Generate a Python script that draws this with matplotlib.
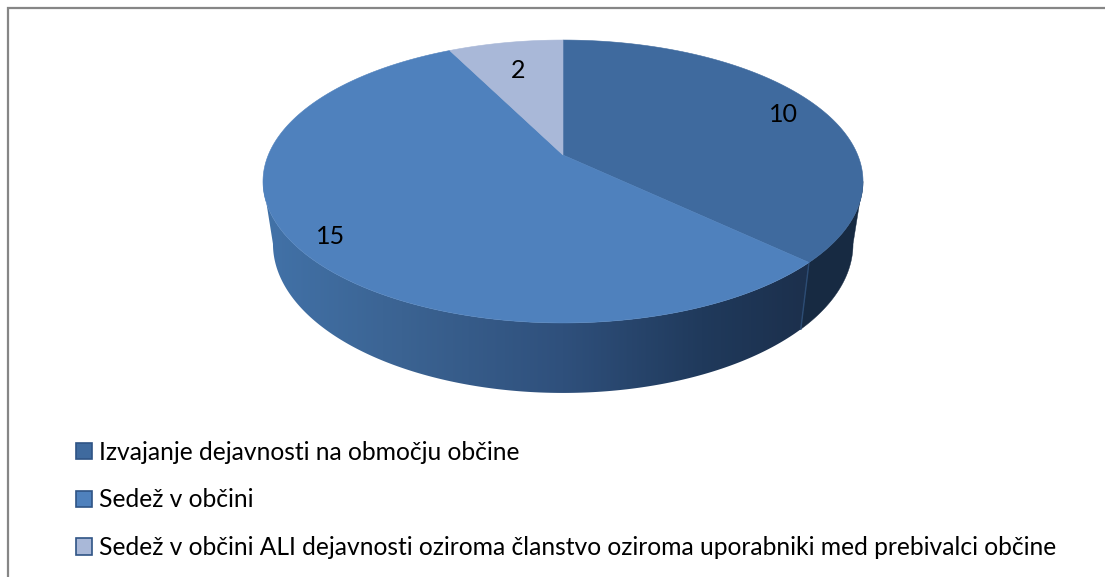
import numpy as np
import matplotlib
matplotlib.use("Agg")
import matplotlib.pyplot as plt
from matplotlib.patches import Polygon, Patch
from matplotlib.colors import LinearSegmentedColormap

labels = ["Izvajanje dejavnosti na območju občine",
          "Sedež v občini",
          "Sedež v občini ALI dejavnosti oziroma članstvo oziroma uporabniki med prebivalci občine"]
values = [10, 15, 2]
colors = ["#3f6a9e", "#4f81bd", "#a9b8d8"]

plt.rcParams["font.family"] = ["Lato", "DejaVu Sans"]

persp = 0.1873


# perspective: angle (clockwise from the top) to pixel
def top_rim(t):
    d = 1 + persp * np.cos(t)
    return 563 + 294.7 * np.sin(t) / d, 155 - 136.5 * np.cos(t) / d


def bottom_rim(t):
    d = 1 + persp * np.cos(t)
    return 563 + 284.9 * np.sin(t) / d, 216 - 143.8 * np.cos(t) / d


fig = plt.figure(figsize=(11.05, 5.77), dpi=100)
ax = fig.add_axes([0, 0, 1, 1])

# frame
ax.plot([8, 8, 1105], [577, 8, 8], color="#868686", lw=1.6, solid_joinstyle="miter")

edges = np.cumsum([0] + values) / sum(values) * 2 * np.pi

# the wall is visible between the two silhouette angles
t_right = np.arccos(-persp)
t_left = 2 * np.pi - t_right


def wall(t0, t1):
    t = np.linspace(t0, t1, 200)
    xt, yt = top_rim(t)
    xb, yb = bottom_rim(t)
    return np.column_stack([np.r_[xt, xb[::-1]], np.r_[yt, yb[::-1]]])


# front wall: horizontal gradient clipped to the wall outline
shade = LinearSegmentedColormap.from_list("shade", [(0, "#4272a8"), (0.23, "#3b6392"), (0.5, "#2f507c"),
                                                    (0.73, "#203a5c"), (0.9, "#1c304d"), (1, "#1c304d")])
grad = ax.imshow(np.linspace(0, 1, 600)[None, :], cmap=shade, extent=(263, 864, 400, 150), aspect="auto", zorder=1)
ax.set_xlim(0, 1105)
ax.set_ylim(577, 0)
ax.axis("off")
front = Polygon(wall(edges[1], t_left), closed=True, fc="none", ec="none")
ax.add_patch(front)
grad.set_clip_path(front)

side = Polygon(wall(t_right, edges[1]), closed=True, fc="#172a42", ec="#172a42", lw=0.3, zorder=1)
ax.add_patch(side)

# edge between the slices on the wall
ax.plot([top_rim(edges[1])[0], bottom_rim(edges[1])[0]],
        [top_rim(edges[1])[1], bottom_rim(edges[1])[1]], color="#2c4c74", lw=1, zorder=2)

# top face
for i in range(len(values)):
    t = np.linspace(edges[i], edges[i + 1], 200)
    x, y = top_rim(t)
    ax.add_patch(Polygon(np.column_stack([np.r_[563, x], np.r_[155, y]]), closed=True,
                         fc=colors[i], ec=colors[i], lw=0.4, zorder=3))

ax.text(783, 115, str(values[0]), fontsize=18, ha="center", va="center", color="black", zorder=4)
ax.text(331, 236, str(values[1]), fontsize=18, ha="center", va="center", color="black", zorder=4)
ax.text(518, 70, str(values[2]), fontsize=18, ha="center", va="center", color="black", zorder=4)

handles = [Patch(fc=c, ec="#2f5485", lw=1.2, label=l) for c, l in zip(colors, labels)]
ax.legend(handles=handles, loc="lower left", bbox_to_anchor=(76 / 1105, 1 - 559 / 577), frameon=False,
          fontsize=17.7, handlelength=0.66, handleheight=0.66, handletextpad=0.28, labelspacing=1.0,
          borderpad=0, borderaxespad=0)

fig.savefig("out.png", dpi=100)
